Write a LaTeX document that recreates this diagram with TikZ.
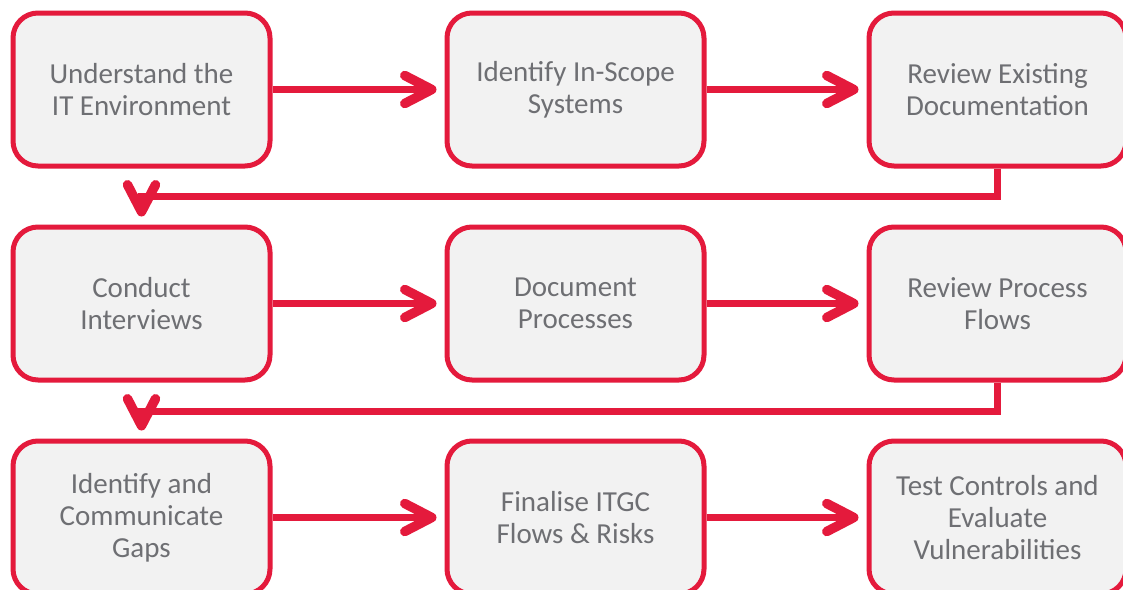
\documentclass[tikz,border=0pt]{standalone}
\usepackage{fontspec}
\setmainfont{Carlito}
\usetikzlibrary{arrows.meta}
\definecolor{flowred}{RGB}{228,26,60}
\definecolor{boxfill}{RGB}{242,242,242}
\definecolor{textgray}{RGB}{110,111,115}
\begin{document}
\begin{tikzpicture}[x=1pt,y=-1pt,
  stepbox/.style={draw=flowred, fill=boxfill, line width=5pt,
    rounded corners=25pt, minimum width=257pt, minimum height=153pt,
    align=center, text=textgray, inner sep=0pt,
    font=\fontsize{29}{32}\selectfont},
  flow/.style={draw=flowred, line width=7pt,
    -{Straight Barb[length=27pt,width=28pt,line width=9.5pt,round]},
    shorten >=8pt}]
\useasboundingbox (0,0) rectangle (1123,589);

% row 1
\node[stepbox] (b1) at (141.5,89.5) {Understand the\\IT Environment};
\node[stepbox] (b2) at (575.5,89.5) {Identify In-Scope\\Systems};
\node[stepbox] (b3) at (997.5,89.5) {Review Existing\\Documentation};
% row 2
\node[stepbox] (b4) at (141.5,303.5) {Conduct\\Interviews};
\node[stepbox] (b5) at (575.5,303.5) {Document\\Processes};
\node[stepbox] (b6) at (997.5,303.5) {Review Process\\Flows};
% row 3
\node[stepbox] (b7) at (141.5,517.5) {Identify and\\Communicate\\Gaps};
\node[stepbox] (b8) at (575.5,517.5) {Finalise ITGC\\Flows \& Risks};
\node[stepbox] (b9) at (997.5,517.5) {Test Controls and\\Evaluate\\Vulnerabilities};

% connectors within rows
\draw[flow] (b1.east) -- (b2.west);
\draw[flow] (b2.east) -- (b3.west);
\draw[flow] (b4.east) -- (b5.west);
\draw[flow] (b5.east) -- (b6.west);
\draw[flow] (b7.east) -- (b8.west);
\draw[flow] (b8.east) -- (b9.west);

% return connectors between rows
\draw[flow] (b3.south) -- ++(0,28) -| (b4.north);
\draw[flow] (b6.south) -- ++(0,29) -| (b7.north);
\end{tikzpicture}
\end{document}
